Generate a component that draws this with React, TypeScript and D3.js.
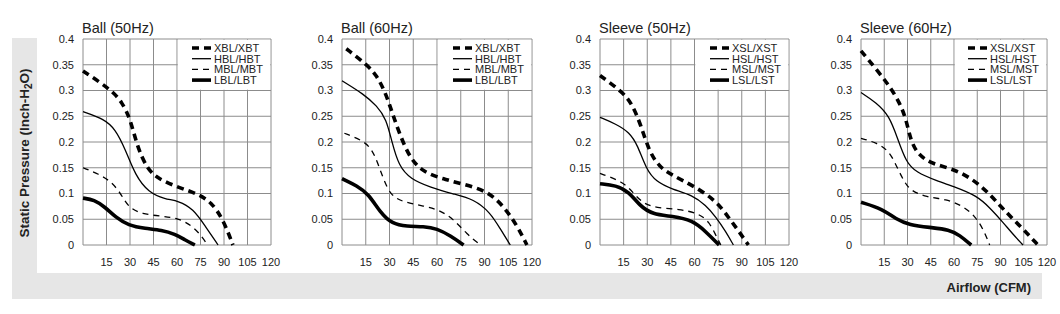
import React from "react";
import * as d3 from "d3";

// airflow (CFM), static pressure (inch-H2O)
const ball50X = [[0, 0.338], [18.6, 0.3], [24.9, 0.277], [30.2, 0.245], [34.4, 0.193], [40.8, 0.148], [48.2, 0.128], [60.8, 0.112], [73.5, 0.099], [82, 0.083], [89.4, 0.05], [95.7, 0]];
const ball50H = [[0, 0.259], [13.3, 0.245], [20.7, 0.225], [27, 0.186], [33.4, 0.135], [41.8, 0.102], [52.4, 0.089], [60.8, 0.086], [70.4, 0.07], [77.7, 0.038], [86.2, 0]];
const ball50M = [[0, 0.15], [10, 0.138], [18.6, 0.122], [24.9, 0.096], [29, 0.073], [37.6, 0.06], [50.3, 0.056], [60.8, 0.052], [69.3, 0.038], [75.6, 0.018], [79.4, 0]];
const ball50L = [[0, 0.091], [7, 0.088], [14.4, 0.073], [20.7, 0.054], [29, 0.038], [39.7, 0.032], [50.3, 0.029], [58.7, 0.021], [65, 0.01], [71.4, 0]];

const ball60X = [[2.7, 0.381], [15.8, 0.35], [22, 0.329], [27.4, 0.296], [31.6, 0.258], [36.8, 0.212], [43.2, 0.167], [51.6, 0.141], [64.2, 0.128], [76.8, 0.118], [91.6, 0.105], [102, 0.076], [110.5, 0.038], [116.8, 0]];
const ball60H = [[0, 0.319], [13.7, 0.293], [22.1, 0.27], [28, 0.245], [31.6, 0.199], [35.8, 0.154], [43.2, 0.128], [55.8, 0.112], [70.5, 0.099], [83.2, 0.089], [93.7, 0.063], [100, 0.031], [106.3, 0]];
const ball60M = [[1.5, 0.217], [15.8, 0.2], [21, 0.173], [25.3, 0.135], [30.5, 0.096], [38.9, 0.083], [51.6, 0.076], [62.1, 0.067], [70.5, 0.05], [78.9, 0.021], [87.4, 0]];
const ball60L = [[0, 0.129], [9.5, 0.115], [16.8, 0.099], [24.2, 0.063], [31.6, 0.041], [41, 0.036], [51.6, 0.036], [60, 0.032], [68.4, 0.018], [76.8, 0]];

const sleeve50X = [[0, 0.329], [14.4, 0.297], [20.7, 0.272], [26, 0.232], [31.3, 0.181], [37.6, 0.152], [46, 0.135], [58.7, 0.116], [73.5, 0.087], [82, 0.052], [88.3, 0.026], [94.2, 0]];
const sleeve50H = [[0, 0.248], [10.1, 0.235], [18.6, 0.219], [23.9, 0.194], [29.2, 0.148], [35.5, 0.123], [46, 0.108], [58.7, 0.097], [67.2, 0.077], [73.5, 0.055], [79.9, 0.026], [84.7, 0]];
const sleeve50M = [[0, 0.139], [14.4, 0.123], [20.7, 0.103], [27, 0.081], [35.5, 0.072], [50.3, 0.07], [63, 0.061], [69.3, 0.045], [73.5, 0.019], [76.7, 0]];
const sleeve50L = [[0, 0.119], [10.1, 0.116], [18.6, 0.103], [24.9, 0.077], [33.4, 0.059], [46, 0.056], [58.7, 0.048], [67.2, 0.026], [75.6, 0]];

const sleeve60X = [[0, 0.377], [9.7, 0.342], [18.3, 0.309], [24.8, 0.277], [29.1, 0.245], [32.3, 0.199], [37.7, 0.173], [46.3, 0.157], [59.3, 0.148], [72.2, 0.128], [83, 0.099], [91.6, 0.07], [104.5, 0.031], [114.2, 0]];
const sleeve60H = [[0, 0.296], [9.7, 0.277], [18.3, 0.251], [23.7, 0.206], [29.1, 0.161], [35.6, 0.141], [48.5, 0.125], [61.4, 0.112], [74.4, 0.096], [83, 0.073], [91.6, 0.044], [98, 0.021], [104.5, 0]];
const sleeve60M = [[0, 0.207], [9.7, 0.199], [18.3, 0.183], [23.7, 0.148], [28, 0.122], [32.3, 0.105], [42, 0.093], [55, 0.089], [65.7, 0.076], [74.4, 0.054], [79.7, 0.025], [83, 0]];
const sleeve60L = [[0, 0.083], [14, 0.07], [22.6, 0.05], [31.3, 0.039], [44.2, 0.034], [57.1, 0.03], [63.6, 0.019], [71.1, 0]];

const titles = ["Ball (50Hz)", "Ball (60Hz)", "Sleeve (50Hz)", "Sleeve (60Hz)"];
const ballNames = ["XBL/XBT", "HBL/HBT", "MBL/MBT", "LBL/LBT"];
const sleeveNames = ["XSL/XST", "HSL/HST", "MSL/MST", "LSL/LST"];
const xTicks = [15, 30, 45, 60, 75, 90, 105, 120];
const yTicks = [0, 0.05, 0.1, 0.15, 0.2, 0.25, 0.3, 0.35, 0.4];

const panels = [
  { title: titles[0], names: ballNames, series: [ball50X, ball50H, ball50M, ball50L], left: 83, right: 271 },
  { title: titles[1], names: ballNames, series: [ball60X, ball60H, ball60M, ball60L], left: 342, right: 532 },
  { title: titles[2], names: sleeveNames, series: [sleeve50X, sleeve50H, sleeve50M, sleeve50L], left: 600, right: 789 },
  { title: titles[3], names: sleeveNames, series: [sleeve60X, sleeve60H, sleeve60M, sleeve60L], left: 861, right: 1047 },
];

// X: thick dashed, H: thin solid, M: thin dashed, L: thick solid
const styles = [
  { width: 3.6, dash: "7 5" },
  { width: 1.3, dash: null },
  { width: 1.3, dash: "6 5" },
  { width: 3.6, dash: null },
];

const FONT = "'Liberation Sans', Arial, sans-serif";
const TOP = 39;
const BOTTOM = 245;
const GRID = "#8c8c8c";
const TEXT = "#222";

function Panel({ p }) {
  const x = d3.scaleLinear().domain([0, 120]).range([p.left, p.right]);
  const y = d3.scaleLinear().domain([0, 0.4]).range([BOTTOM, TOP]);
  const line = d3
    .line()
    .x((d) => x(d[0]))
    .y((d) => y(d[1]))
    .curve(d3.curveBasis);

  const fmt = (v) => String(+v.toFixed(2));

  return (
    <g>
      <text x={p.left - 1} y={33} fontSize={14.5} fill={TEXT} fontFamily={FONT}>
        {p.title}
      </text>

      {/* grid */}
      {yTicks.map((t) => (
        <line key={"h" + t} x1={x(0)} x2={x(120)} y1={y(t)} y2={y(t)} stroke={GRID} strokeWidth={1} />
      ))}
      {[0, ...xTicks].map((t) => (
        <line key={"v" + t} x1={x(t)} x2={x(t)} y1={y(0)} y2={y(0.4)} stroke={GRID} strokeWidth={1} />
      ))}

      {/* legend box hides grid in top-right */}
      <rect x={x(60) + 0.8} y={y(0.4) + 0.8} width={x(120) - x(60) - 1.6} height={y(0.3) - y(0.4) - 1.6} fill="#fff" />

      {yTicks.map((t) => (
        <text key={"yl" + t} x={p.left - 9} y={y(t)} dy="0.35em" textAnchor="end" fontSize={11} fill={TEXT} fontFamily={FONT}>
          {fmt(t)}
        </text>
      ))}
      {xTicks.map((t) => (
        <text key={"xl" + t} x={x(t)} y={262} dy="0.35em" textAnchor="middle" fontSize={11} fill={TEXT} fontFamily={FONT}>
          {t}
        </text>
      ))}

      {p.series.map((s, i) => (
        <path
          key={"s" + i}
          d={line(s)}
          fill="none"
          stroke="#000"
          strokeWidth={styles[i].width}
          strokeDasharray={styles[i].dash || undefined}
        />
      ))}

      {p.names.map((n, i) => {
        const ly = TOP + 9 + i * 10.7;
        return (
          <g key={"lg" + i}>
            <line
              x1={p.right - 79}
              x2={p.right - 60}
              y1={ly}
              y2={ly}
              stroke="#000"
              strokeWidth={styles[i].width}
              strokeDasharray={styles[i].dash || undefined}
            />
            <text x={p.right - 57} y={ly} dy="0.35em" fontSize={11} fill={TEXT} fontFamily={FONT}>
              {n}
            </text>
          </g>
        );
      })}
    </g>
  );
}

export default function App() {
  return (
    <svg width={1060} height={314} style={{ position: "absolute", left: 0, top: 0, background: "#fff" }}>
      {/* gray frame bands */}
      <rect x={12} y={38} width={25} height={261} fill="#e6e6e6" />
      <rect x={12} y={273} width={1030} height={26} fill="#e6e6e6" />

      <text
        transform="translate(29,153) rotate(-90)"
        textAnchor="middle"
        fontSize={13.5}
        fontWeight="bold"
        fill={TEXT}
        fontFamily={FONT}
      >
        Static Pressure (Inch-H<tspan dy="3" fontSize={10}>2</tspan>
        <tspan dy="-3">O)</tspan>
      </text>
      <text x={1031} y={292} textAnchor="end" fontSize={13} fontWeight="bold" fill={TEXT} fontFamily={FONT}>
        Airflow (CFM)
      </text>

      {panels.map((p, i) => (
        <Panel key={i} p={p} />
      ))}
    </svg>
  );
}
